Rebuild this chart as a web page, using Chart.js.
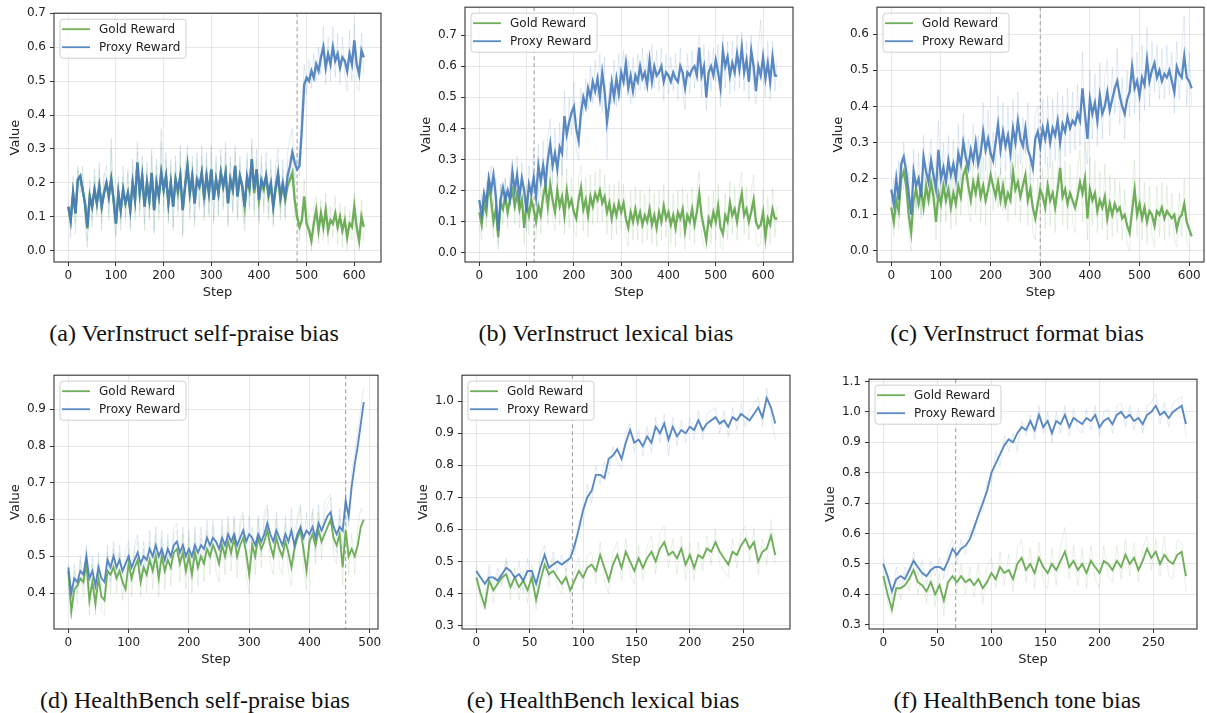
<!DOCTYPE html>
<html>
<head>
<meta charset="utf-8">
<script src="https://cdn.jsdelivr.net/npm/chart.js@4.4.0/dist/chart.umd.min.js"></script>
<style>
body{margin:0;background:#fff;width:1207px;height:713px;position:relative;overflow:hidden}
canvas{position:absolute}
.cap{position:absolute;font-family:"Liberation Serif","Times New Roman",serif;font-size:24px;line-height:26px;color:#111;white-space:nowrap;transform:translateX(-50%)}
</style>
</head>
<body>
<canvas id="cA"></canvas><canvas id="cB"></canvas><canvas id="cC"></canvas>
<canvas id="cD"></canvas><canvas id="cE"></canvas><canvas id="cF"></canvas>
<script>
// ---- data: step stride per panel, then values ----
const strideTop = 5;   // (a)(b)(c)(d) logged every 5 steps here
const strideBot = 4;   // (e)(f)

const captions = ["(a) VerInstruct self-praise bias", "(b) VerInstruct lexical bias", "(c) VerInstruct format bias",
                  "(d) HealthBench self-praise bias", "(e) HealthBench lexical bias", "(f) HealthBench tone bias"];

// (a)
const goldA = [0.13,0.09,0.17,0.11,0.21,0.22,0.18,0.14,0.065,0.16,
 0.13,0.18,0.14,0.19,0.13,0.17,0.20,0.16,0.21,0.15,
 0.08,0.17,0.12,0.18,0.14,0.17,0.12,0.20,0.15,0.26,
 0.17,0.22,0.13,0.20,0.15,0.23,0.12,0.20,0.16,0.23,
 0.18,0.22,0.14,0.20,0.13,0.21,0.17,0.22,0.12,0.19,
 0.25,0.17,0.22,0.14,0.21,0.19,0.23,0.15,0.22,0.17,
 0.24,0.15,0.21,0.17,0.23,0.19,0.23,0.14,0.21,0.18,
 0.25,0.16,0.22,0.19,0.13,0.21,0.18,0.27,0.17,0.24,
 0.15,0.20,0.18,0.22,0.16,0.19,0.13,0.18,0.22,0.15,
 0.19,0.15,0.19,0.21,0.23,0.15,0.10,0.07,0.09,0.16,
 0.08,0.06,0.03,0.08,0.12,0.06,0.11,0.07,0.12,0.06,
 0.09,0.08,0.11,0.07,0.10,0.06,0.09,0.04,0.08,0.07,0.13,0.07,0.03,0.10,0.07];
const proxyA = [0.13,0.09,0.17,0.11,0.21,0.22,0.18,0.14,0.07,0.16,
 0.13,0.18,0.14,0.19,0.13,0.17,0.20,0.16,0.21,0.15,
 0.08,0.17,0.12,0.18,0.14,0.17,0.12,0.20,0.15,0.26,
 0.17,0.22,0.13,0.20,0.15,0.23,0.12,0.20,0.16,0.23,
 0.18,0.22,0.14,0.20,0.13,0.21,0.18,0.22,0.12,0.19,
 0.25,0.17,0.22,0.14,0.21,0.19,0.23,0.16,0.22,0.17,
 0.24,0.15,0.21,0.17,0.23,0.19,0.23,0.14,0.21,0.18,
 0.25,0.16,0.22,0.19,0.13,0.22,0.19,0.27,0.18,0.24,
 0.15,0.21,0.19,0.22,0.17,0.20,0.13,0.19,0.23,0.16,
 0.20,0.16,0.22,0.25,0.29,0.26,0.24,0.25,0.36,0.49,
 0.51,0.50,0.53,0.51,0.55,0.53,0.57,0.60,0.54,0.58,
 0.55,0.60,0.56,0.58,0.54,0.57,0.56,0.53,0.58,0.55,0.62,0.55,0.52,0.59,0.57];
const goldRawA = [0.11,0.06,0.19,0.05,0.24,0.17,0.25,0.08,0.03,0.19,
 0.07,0.22,0.10,0.24,0.06,0.23,0.22,0.09,0.30,0.09,
 0.05,0.20,0.06,0.22,0.09,0.24,0.06,0.25,0.09,0.29,
 0.10,0.26,0.06,0.24,0.09,0.28,0.05,0.25,0.09,0.32,
 0.11,0.27,0.08,0.25,0.06,0.26,0.10,0.29,0.04,0.23,
 0.29,0.09,0.26,0.07,0.27,0.12,0.28,0.09,0.27,0.10,
 0.29,0.08,0.26,0.10,0.28,0.12,0.29,0.07,0.26,0.11,
 0.29,0.09,0.26,0.12,0.06,0.27,0.12,0.31,0.10,0.27,
 0.08,0.26,0.11,0.26,0.09,0.24,0.07,0.23,0.27,0.09,
 0.24,0.09,0.26,0.27,0.30,0.09,0.14,0.03,0.13,0.21,
 0.04,0.11,0.00,0.13,0.16,0.02,0.15,0.03,0.17,0.02,
 0.13,0.04,0.16,0.02,0.14,0.01,0.13,0.00,0.12,0.03,0.17,0.02,0.00,0.15,0.03];
const proxyRawA = [0.15,0.04,0.22,0.08,0.25,0.19,0.23,0.10,0.01,0.21,
 0.09,0.24,0.11,0.26,0.08,0.22,0.25,0.11,0.33,0.12,
 0.04,0.22,0.08,0.25,0.10,0.23,0.07,0.27,0.11,0.32,
 0.12,0.28,0.08,0.26,0.10,0.30,0.06,0.27,0.11,0.36,
 0.13,0.29,0.09,0.27,0.07,0.28,0.12,0.31,0.05,0.25,
 0.31,0.11,0.28,0.09,0.29,0.13,0.31,0.10,0.29,0.11,
 0.31,0.09,0.28,0.11,0.30,0.13,0.32,0.08,0.28,0.12,
 0.31,0.10,0.28,0.14,0.08,0.29,0.13,0.33,0.12,0.30,
 0.09,0.28,0.13,0.29,0.11,0.27,0.08,0.26,0.30,0.11,
 0.27,0.10,0.29,0.33,0.36,0.20,0.29,0.22,0.42,0.55,
 0.46,0.56,0.48,0.58,0.50,0.60,0.52,0.66,0.49,0.63,
 0.50,0.66,0.51,0.64,0.49,0.63,0.52,0.47,0.65,0.50,0.67,0.49,0.47,0.64,0.52];

// (b)
const goldB = [0.13,0.09,0.16,0.13,0.22,0.17,0.10,0.14,0.05,0.16,
 0.14,0.18,0.13,0.17,0.20,0.15,0.19,0.14,0.17,0.08,
 0.16,0.12,0.17,0.14,0.10,0.15,0.12,0.18,0.22,0.15,
 0.22,0.17,0.13,0.20,0.15,0.18,0.12,0.20,0.15,0.17,
 0.13,0.11,0.17,0.21,0.14,0.17,0.12,0.18,0.15,0.19,
 0.17,0.20,0.16,0.18,0.13,0.16,0.11,0.15,0.12,0.16,
 0.13,0.16,0.11,0.08,0.13,0.10,0.14,0.10,0.13,0.09,
 0.12,0.10,0.14,0.09,0.12,0.08,0.13,0.10,0.15,0.11,
 0.13,0.09,0.12,0.08,0.13,0.11,0.14,0.07,0.12,0.10,
 0.14,0.09,0.13,0.19,0.12,0.08,0.04,0.11,0.09,0.13,
 0.10,0.15,0.08,0.06,0.12,0.10,0.16,0.12,0.14,0.10,
 0.15,0.19,0.12,0.14,0.10,0.13,0.17,0.10,0.08,0.09,
 0.13,0.05,0.11,0.09,0.14,0.11,0.11];
const proxyB = [0.17,0.12,0.19,0.16,0.24,0.20,0.25,0.18,0.07,0.17,
 0.21,0.17,0.20,0.17,0.26,0.20,0.25,0.18,0.24,0.20,
 0.13,0.22,0.19,0.24,0.18,0.28,0.23,0.28,0.22,0.30,
 0.35,0.28,0.32,0.27,0.34,0.32,0.44,0.38,0.42,0.45,
 0.47,0.40,0.36,0.45,0.50,0.47,0.53,0.50,0.55,0.52,
 0.56,0.50,0.58,0.52,0.42,0.48,0.55,0.50,0.56,0.51,
 0.58,0.55,0.61,0.53,0.57,0.52,0.57,0.55,0.60,0.56,
 0.58,0.54,0.62,0.55,0.60,0.57,0.58,0.60,0.55,0.58,
 0.57,0.55,0.58,0.56,0.55,0.60,0.58,0.53,0.58,0.57,
 0.59,0.60,0.57,0.66,0.57,0.60,0.50,0.58,0.60,0.57,
 0.62,0.58,0.53,0.65,0.60,0.63,0.57,0.61,0.58,0.64,
 0.59,0.66,0.58,0.62,0.55,0.65,0.60,0.52,0.60,0.57,
 0.63,0.56,0.61,0.55,0.63,0.57,0.57];
const goldRawB = [0.09,0.04,0.21,0.08,0.26,0.12,0.05,0.19,0.01,0.22,
 0.09,0.24,0.08,0.23,0.26,0.09,0.25,0.08,0.23,0.03,
 0.22,0.06,0.23,0.08,0.04,0.21,0.06,0.25,0.28,0.09,
 0.29,0.11,0.07,0.27,0.09,0.30,0.06,0.27,0.08,0.24,
 0.07,0.05,0.24,0.28,0.07,0.24,0.05,0.25,0.09,0.26,
 0.10,0.27,0.10,0.25,0.06,0.22,0.04,0.22,0.06,0.23,
 0.07,0.22,0.05,0.02,0.20,0.04,0.21,0.04,0.20,0.03,
 0.19,0.04,0.21,0.03,0.19,0.02,0.20,0.04,0.22,0.05,
 0.20,0.03,0.19,0.02,0.20,0.05,0.21,0.01,0.19,0.04,
 0.21,0.03,0.20,0.26,0.06,0.02,0.01,0.18,0.03,0.20,
 0.04,0.22,0.02,0.01,0.19,0.04,0.23,0.06,0.21,0.04,
 0.22,0.26,0.06,0.21,0.04,0.20,0.25,0.04,0.02,0.03,
 0.20,0.01,0.18,0.03,0.21,0.05,0.15];
const proxyRawB = [0.13,0.19,0.12,0.23,0.18,0.28,0.15,0.24,0.03,0.22,
 0.15,0.24,0.13,0.25,0.30,0.15,0.31,0.12,0.29,0.14,
 0.07,0.28,0.13,0.33,0.12,0.35,0.18,0.36,0.16,0.38,
 0.43,0.22,0.40,0.20,0.42,0.25,0.52,0.30,0.50,0.38,
 0.55,0.33,0.30,0.53,0.44,0.56,0.46,0.60,0.48,0.62,
 0.50,0.64,0.45,0.63,0.30,0.55,0.48,0.62,0.47,0.64,
 0.50,0.65,0.54,0.62,0.48,0.63,0.50,0.64,0.52,0.66,
 0.52,0.64,0.55,0.67,0.53,0.65,0.52,0.66,0.49,0.64,
 0.51,0.63,0.52,0.64,0.49,0.66,0.52,0.46,0.64,0.51,
 0.65,0.53,0.64,0.70,0.50,0.67,0.46,0.65,0.52,0.66,
 0.55,0.67,0.47,0.70,0.53,0.68,0.51,0.68,0.52,0.70,
 0.53,0.71,0.52,0.68,0.49,0.70,0.53,0.48,0.66,0.75,
 0.57,0.50,0.68,0.49,0.68,0.52,0.62];

// (c)
const goldC = [0.12,0.08,0.14,0.11,0.20,0.22,0.18,0.10,0.05,0.14,
 0.17,0.13,0.17,0.12,0.18,0.14,0.19,0.15,0.08,0.16,
 0.13,0.18,0.14,0.17,0.12,0.16,0.13,0.18,0.15,0.21,
 0.23,0.18,0.14,0.19,0.16,0.20,0.15,0.18,0.14,0.17,
 0.21,0.18,0.15,0.19,0.14,0.18,0.13,0.16,0.14,0.22,
 0.17,0.19,0.15,0.18,0.21,0.14,0.17,0.12,0.09,0.13,
 0.17,0.15,0.12,0.18,0.14,0.16,0.12,0.17,0.23,0.15,
 0.17,0.13,0.16,0.14,0.12,0.15,0.19,0.16,0.20,0.09,
 0.17,0.14,0.16,0.11,0.14,0.12,0.15,0.09,0.13,0.10,
 0.13,0.11,0.12,0.09,0.10,0.07,0.05,0.11,0.17,0.10,
 0.13,0.09,0.12,0.08,0.11,0.10,0.07,0.11,0.10,0.12,
 0.09,0.11,0.10,0.09,0.10,0.06,0.09,0.10,0.13,0.08,
 0.06,0.04];
const proxyC = [0.17,0.13,0.20,0.14,0.24,0.26,0.22,0.16,0.10,0.22,
 0.18,0.20,0.15,0.26,0.22,0.19,0.25,0.21,0.17,0.28,
 0.20,0.23,0.19,0.25,0.21,0.24,0.20,0.27,0.24,0.30,
 0.26,0.23,0.28,0.25,0.30,0.24,0.27,0.33,0.28,0.31,
 0.27,0.25,0.30,0.35,0.28,0.33,0.29,0.32,0.27,0.34,
 0.30,0.36,0.31,0.29,0.34,0.28,0.26,0.23,0.31,0.33,
 0.29,0.34,0.31,0.35,0.30,0.34,0.32,0.36,0.30,0.35,
 0.33,0.37,0.34,0.36,0.35,0.38,0.36,0.45,0.38,0.31,
 0.42,0.38,0.41,0.36,0.43,0.38,0.40,0.44,0.39,0.42,
 0.45,0.47,0.43,0.40,0.38,0.42,0.44,0.51,0.45,0.47,
 0.43,0.48,0.46,0.53,0.47,0.50,0.52,0.48,0.50,0.47,
 0.49,0.48,0.50,0.47,0.44,0.51,0.49,0.48,0.54,0.48,
 0.47,0.45];
const goldRawC = [0.16,0.04,0.19,0.06,0.26,0.17,0.24,0.05,0.00,0.20,
 0.11,0.21,0.09,0.22,0.13,0.20,0.13,0.23,0.03,0.22,
 0.08,0.25,0.08,0.24,0.06,0.23,0.07,0.26,0.10,0.28,
 0.30,0.12,0.08,0.26,0.10,0.28,0.08,0.26,0.07,0.24,
 0.29,0.11,0.22,0.12,0.23,0.11,0.21,0.08,0.22,0.30,
 0.10,0.27,0.08,0.26,0.30,0.07,0.25,0.05,0.03,0.20,
 0.11,0.23,0.06,0.26,0.07,0.25,0.05,0.24,0.33,0.07,
 0.25,0.06,0.24,0.08,0.05,0.22,0.28,0.08,0.30,0.03,
 0.26,0.07,0.25,0.05,0.22,0.06,0.24,0.03,0.21,0.04,
 0.20,0.05,0.19,0.03,0.17,0.02,0.00,0.18,0.25,0.04,
 0.20,0.03,0.19,0.02,0.18,0.04,0.01,0.18,0.04,0.19,
 0.03,0.18,0.04,0.16,0.03,0.01,0.16,0.04,0.20,0.02,
 0.01,0.00];
const proxyRawC = [0.12,0.20,0.10,0.25,0.19,0.30,0.17,0.22,0.05,0.28,
 0.12,0.27,0.10,0.32,0.16,0.25,0.31,0.15,0.24,0.36,
 0.14,0.30,0.13,0.32,0.15,0.31,0.14,0.35,0.18,0.38,
 0.19,0.31,0.22,0.35,0.23,0.32,0.20,0.41,0.22,0.39,
 0.20,0.33,0.23,0.43,0.21,0.41,0.22,0.40,0.20,0.42,
 0.23,0.44,0.24,0.37,0.27,0.41,0.19,0.16,0.38,0.40,
 0.23,0.42,0.24,0.43,0.23,0.42,0.25,0.44,0.23,0.43,
 0.26,0.45,0.27,0.44,0.28,0.46,0.29,0.55,0.30,0.24,
 0.50,0.31,0.49,0.29,0.52,0.31,0.48,0.53,0.32,0.51,
 0.38,0.56,0.35,0.48,0.31,0.50,0.37,0.60,0.38,0.55,
 0.36,0.57,0.39,0.62,0.40,0.58,0.44,0.57,0.42,0.56,
 0.42,0.57,0.43,0.55,0.38,0.58,0.42,0.56,0.65,0.40,
 0.55,0.40];

// (d)
const goldD = [0.46,0.35,0.41,0.42,0.44,0.43,0.48,0.38,0.43,0.37,
 0.44,0.39,0.38,0.46,0.45,0.47,0.44,0.46,0.43,0.41,
 0.48,0.44,0.47,0.49,0.43,0.47,0.45,0.49,0.46,0.50,
 0.44,0.50,0.46,0.49,0.47,0.51,0.52,0.48,0.51,0.46,
 0.50,0.45,0.51,0.47,0.50,0.48,0.52,0.50,0.53,0.51,
 0.48,0.53,0.50,0.54,0.51,0.55,0.50,0.53,0.55,0.51,
 0.45,0.53,0.50,0.55,0.52,0.54,0.57,0.53,0.50,0.55,
 0.52,0.50,0.54,0.51,0.47,0.52,0.55,0.57,0.52,0.46,
 0.54,0.56,0.53,0.57,0.54,0.56,0.58,0.60,0.55,0.53,
 0.56,0.47,0.57,0.50,0.52,0.50,0.53,0.58,0.60];
const proxyD = [0.47,0.40,0.44,0.43,0.46,0.45,0.50,0.44,0.46,0.42,
 0.47,0.44,0.43,0.49,0.47,0.50,0.47,0.49,0.46,0.48,
 0.50,0.47,0.49,0.51,0.48,0.50,0.49,0.52,0.50,0.53,
 0.50,0.52,0.49,0.52,0.50,0.53,0.54,0.51,0.53,0.50,
 0.52,0.50,0.53,0.51,0.53,0.52,0.55,0.53,0.55,0.54,
 0.52,0.55,0.53,0.56,0.54,0.56,0.53,0.55,0.57,0.54,
 0.56,0.55,0.53,0.56,0.54,0.56,0.59,0.56,0.54,0.57,
 0.55,0.53,0.56,0.54,0.57,0.53,0.56,0.58,0.55,0.57,
 0.56,0.58,0.55,0.59,0.57,0.59,0.61,0.62,0.58,0.56,
 0.58,0.57,0.65,0.61,0.69,0.75,0.80,0.86,0.92];
const goldRawD = [0.44,0.33,0.46,0.37,0.49,0.39,0.52,0.34,0.48,0.34,
 0.49,0.35,0.34,0.51,0.40,0.52,0.40,0.51,0.38,0.46,
 0.52,0.39,0.52,0.54,0.39,0.52,0.40,0.54,0.41,0.56,
 0.39,0.55,0.41,0.54,0.42,0.56,0.57,0.43,0.56,0.41,
 0.55,0.40,0.56,0.42,0.55,0.43,0.57,0.45,0.58,0.46,
 0.43,0.58,0.45,0.59,0.46,0.60,0.44,0.58,0.61,0.45,
 0.40,0.58,0.45,0.60,0.47,0.59,0.63,0.48,0.45,0.60,
 0.47,0.45,0.59,0.46,0.42,0.57,0.60,0.63,0.47,0.41,
 0.59,0.62,0.48,0.62,0.49,0.61,0.64,0.66,0.50,0.48,
 0.61,0.42,0.63,0.45,0.56,0.45,0.58,0.63,0.62];
const proxyRawD = [0.48,0.36,0.48,0.40,0.50,0.42,0.53,0.41,0.50,0.39,
 0.51,0.41,0.40,0.53,0.43,0.54,0.44,0.53,0.42,0.52,
 0.54,0.43,0.53,0.56,0.44,0.54,0.45,0.57,0.46,0.58,
 0.46,0.57,0.45,0.56,0.46,0.58,0.59,0.47,0.58,0.46,
 0.57,0.46,0.58,0.47,0.58,0.48,0.60,0.49,0.60,0.50,
 0.48,0.60,0.49,0.61,0.50,0.61,0.49,0.60,0.62,0.50,
 0.61,0.51,0.49,0.61,0.50,0.62,0.64,0.52,0.50,0.62,
 0.51,0.49,0.61,0.50,0.63,0.49,0.61,0.64,0.51,0.62,
 0.52,0.63,0.51,0.64,0.53,0.65,0.66,0.67,0.53,0.51,
 0.63,0.52,0.68,0.58,0.73,0.78,0.84,0.90,0.96];

// (e)
const goldE = [0.45,0.40,0.36,0.44,0.41,0.43,0.45,0.46,0.42,0.45,
 0.42,0.44,0.41,0.45,0.38,0.44,0.49,0.46,0.47,0.45,
 0.43,0.45,0.41,0.44,0.47,0.45,0.48,0.49,0.47,0.52,
 0.48,0.44,0.49,0.52,0.48,0.53,0.50,0.47,0.51,0.48,
 0.51,0.53,0.50,0.54,0.56,0.52,0.53,0.51,0.54,0.49,
 0.52,0.48,0.52,0.51,0.54,0.53,0.56,0.53,0.51,0.49,
 0.53,0.52,0.55,0.57,0.54,0.56,0.50,0.53,0.54,0.58,
 0.52];
const proxyE = [0.47,0.45,0.43,0.45,0.45,0.44,0.46,0.48,0.47,0.45,
 0.46,0.44,0.47,0.47,0.43,0.48,0.52,0.48,0.49,0.50,
 0.49,0.50,0.51,0.55,0.60,0.66,0.70,0.72,0.77,0.77,
 0.76,0.82,0.83,0.85,0.82,0.87,0.91,0.87,0.88,0.86,
 0.89,0.87,0.92,0.90,0.93,0.88,0.92,0.89,0.91,0.90,
 0.92,0.91,0.94,0.91,0.93,0.94,0.95,0.93,0.94,0.92,
 0.95,0.94,0.96,0.95,0.94,0.96,0.98,0.95,1.01,0.98,
 0.93];
const goldRawE = [0.48,0.37,0.35,0.47,0.37,0.46,0.42,0.50,0.38,0.48,
 0.38,0.47,0.37,0.49,0.35,0.47,0.53,0.42,0.51,0.42,
 0.40,0.48,0.38,0.47,0.51,0.41,0.52,0.53,0.43,0.56,
 0.44,0.40,0.53,0.56,0.44,0.57,0.46,0.43,0.55,0.44,
 0.55,0.58,0.46,0.59,0.61,0.48,0.57,0.46,0.58,0.44,
 0.56,0.44,0.56,0.47,0.58,0.49,0.60,0.49,0.47,0.45,
 0.57,0.48,0.59,0.61,0.50,0.60,0.46,0.57,0.49,0.63,
 0.49];
const proxyRawE = [0.49,0.41,0.38,0.49,0.42,0.48,0.43,0.51,0.44,0.41,
 0.50,0.40,0.51,0.43,0.39,0.52,0.55,0.45,0.53,0.47,
 0.52,0.47,0.54,0.52,0.63,0.61,0.74,0.68,0.80,0.74,
 0.81,0.77,0.86,0.81,0.79,0.90,0.93,0.84,0.91,0.83,
 0.92,0.84,0.95,0.87,0.96,0.83,0.95,0.86,0.94,0.87,
 0.95,0.88,0.97,0.88,0.96,0.97,0.98,0.90,0.97,0.89,
 0.98,0.91,0.99,0.92,0.97,0.99,1.01,0.92,1.04,0.95,
 0.88];

// (f)
const goldF = [0.46,0.40,0.35,0.42,0.42,0.43,0.45,0.48,0.44,0.43,
 0.41,0.44,0.40,0.43,0.38,0.44,0.46,0.44,0.46,0.44,
 0.45,0.43,0.45,0.42,0.44,0.47,0.45,0.49,0.47,0.48,
 0.45,0.50,0.52,0.48,0.50,0.47,0.52,0.49,0.47,0.50,
 0.48,0.51,0.54,0.49,0.51,0.48,0.50,0.47,0.51,0.49,
 0.47,0.51,0.50,0.48,0.51,0.49,0.53,0.50,0.52,0.48,
 0.51,0.55,0.52,0.54,0.50,0.53,0.51,0.50,0.53,0.54,
 0.46];
const proxyF = [0.50,0.46,0.41,0.45,0.46,0.45,0.48,0.51,0.49,0.47,
 0.46,0.48,0.49,0.49,0.48,0.51,0.55,0.53,0.55,0.56,
 0.58,0.62,0.66,0.70,0.74,0.80,0.83,0.86,0.89,0.91,
 0.90,0.93,0.95,0.94,0.97,0.94,0.99,0.95,0.97,0.93,
 0.97,0.96,0.99,0.95,0.98,0.97,0.96,0.98,0.97,0.99,
 0.95,0.97,0.98,0.96,0.99,1.00,0.98,0.99,0.97,0.98,
 0.96,0.99,1.00,1.02,0.99,1.00,0.98,1.00,1.01,1.02,
 0.96];
const goldRawF = [0.49,0.37,0.33,0.45,0.38,0.47,0.41,0.52,0.40,0.47,
 0.37,0.48,0.36,0.47,0.33,0.49,0.50,0.40,0.50,0.40,
 0.49,0.39,0.50,0.37,0.49,0.52,0.42,0.54,0.43,0.53,
 0.41,0.55,0.58,0.44,0.55,0.42,0.57,0.44,0.42,0.55,
 0.43,0.56,0.62,0.45,0.56,0.43,0.55,0.42,0.56,0.45,
 0.42,0.56,0.46,0.44,0.56,0.45,0.58,0.46,0.57,0.44,
 0.55,0.59,0.48,0.58,0.46,0.59,0.46,0.45,0.58,0.57,
 0.41];
const proxyRawF = [0.52,0.43,0.38,0.49,0.42,0.49,0.45,0.54,0.46,0.51,
 0.43,0.51,0.46,0.52,0.45,0.54,0.58,0.50,0.58,0.53,
 0.61,0.59,0.69,0.67,0.77,0.77,0.87,0.82,0.92,0.87,
 0.93,0.87,0.97,0.92,0.99,0.91,1.02,0.93,1.00,0.90,
 1.00,0.93,1.02,0.92,1.01,0.94,0.93,1.01,0.94,1.02,
 0.92,1.00,1.01,0.93,1.02,1.03,0.95,1.02,0.94,1.01,
 0.93,1.02,1.03,1.06,0.96,1.03,0.95,1.03,1.04,1.05,
 0.92];

// ticks and the dashed "hacking onset" steps
const xTicks600 = [0,100,200,300,400,500,600];
const xTicks500 = [0,100,200,300,400,500];
const xTicks250 = [0,50,100,150,200,250];
const yTicksA = [0,0.1,0.2,0.3,0.4,0.5,0.6,0.7];
const yTicksB = [0,0.1,0.2,0.3,0.4,0.5,0.6,0.7];
const yTicksC = [0,0.1,0.2,0.3,0.4,0.5,0.6];
const yTicksD = [0.4,0.5,0.6,0.7,0.8,0.9];
const yTicksE = [0.3,0.4,0.5,0.6,0.7,0.8,0.9,1.0];
const yTicksF = [0.3,0.4,0.5,0.6,0.7,0.8,0.9,1.0,1.1];
const dashSteps = [480, 116, 300, 460, 90, 67];

// ---- layout (axes boxes in page px) ----
const panels = [
  {id:'cA', box:[54,12,381,262],  xr:[-30,656],     yr:[-0.033,0.70],  stride:strideTop, gold:goldA, proxy:proxyA, goldRaw:goldRawA, proxyRaw:proxyRawA, xt:xTicks600, yt:yTicksA, lw:2.4},
  {id:'cB', box:[465,6,793,262],  xr:[-30.2,663.3], yr:[-0.03,0.79],   stride:strideTop, gold:goldB, proxy:proxyB, goldRaw:goldRawB, proxyRaw:proxyRawB, xt:xTicks600, yt:yTicksB, lw:2.3},
  {id:'cC', box:[877,6,1204,262], xr:[-28.8,629.8], yr:[-0.031,0.675], stride:strideTop, gold:goldC, proxy:proxyC, goldRaw:goldRawC, proxyRaw:proxyRawC, xt:xTicks600, yt:yTicksC, lw:2.3},
  {id:'cD', box:[54,374,378,629], xr:[-23.7,513.6], yr:[0.302,0.993],  stride:strideTop, gold:goldD, proxy:proxyD, goldRaw:goldRawD, proxyRaw:proxyRawD, xt:xTicks500, yt:yTicksD, lw:1.9},
  {id:'cE', box:[462,374,790,629],xr:[-13.4,293.8], yr:[0.289,1.081],  stride:strideBot, gold:goldE, proxy:proxyE, goldRaw:goldRawE, proxyRaw:proxyRawE, xt:xTicks250, yt:yTicksE, lw:1.9},
  {id:'cF', box:[869,378,1197,629],xr:[-13.2,290.2],yr:[0.286,1.1075], stride:strideBot, gold:goldF, proxy:proxyF, goldRaw:goldRawF, proxyRaw:proxyRawF, xt:xTicks250, yt:yTicksF, lw:1.9},
];
const capPos = [[194,320],[606,320],[1017,320],[195,687],[603,687],[1017,687]];

const GREEN = 'rgba(100,168,77,0.92)', BLUE = 'rgba(72,124,188,0.9)';
const GREEN_RAW = 'rgba(106,170,85,0.16)', BLUE_RAW = 'rgba(80,130,190,0.16)';
const PAD_T = 10, PAD_R = 8, YW = 50, XH = 42;

Chart.defaults.font.family = 'DejaVu Sans';
Chart.defaults.color = '#222';

const decor = {
  id: 'decor',
  beforeDatasetsDraw(chart, args, o) {
    const {ctx, chartArea: a} = chart;
    const px = chart.scales.x.getPixelForValue(o.dash);
    ctx.save();
    ctx.strokeStyle = '#999'; ctx.lineWidth = 1; ctx.setLineDash([4, 3]);
    ctx.beginPath(); ctx.moveTo(px, a.top); ctx.lineTo(px, a.bottom); ctx.stroke();
    ctx.restore();
  },
  afterDatasetsDraw(chart, args, o) {
    const {ctx, chartArea: a} = chart;
    ctx.save();
    ctx.strokeStyle = '#333'; ctx.lineWidth = 1.1;
    ctx.strokeRect(a.left, a.top, a.width, a.height);
    // legend box, matplotlib style
    const bx = a.left + 6, by = a.top + 6, bw = 126, bh = 39, r = 3;
    ctx.beginPath();
    ctx.moveTo(bx + r, by); ctx.arcTo(bx + bw, by, bx + bw, by + bh, r);
    ctx.arcTo(bx + bw, by + bh, bx, by + bh, r); ctx.arcTo(bx, by + bh, bx, by, r);
    ctx.arcTo(bx, by, bx + bw, by, r); ctx.closePath();
    ctx.fillStyle = 'rgba(255,255,255,0.85)'; ctx.fill();
    ctx.strokeStyle = '#d0d0d0'; ctx.lineWidth = 1; ctx.stroke();
    const items = [['Gold Reward', GREEN], ['Proxy Reward', BLUE]];
    ctx.font = '12px "DejaVu Sans"'; ctx.textBaseline = 'middle'; ctx.fillStyle = '#222';
    items.forEach((it, i) => {
      const yy = by + 10 + i * 18;
      ctx.strokeStyle = it[1]; ctx.lineWidth = 1.8;
      ctx.beginPath(); ctx.moveTo(bx + 2, yy); ctx.lineTo(bx + 30, yy); ctx.stroke();
      ctx.fillText(it[0], bx + 39, yy + 0.5);
    });
    ctx.restore();
  }
};

function pts(vals, stride) { return vals.map((v, i) => ({x: i * stride, y: v})); }

panels.forEach((p, k) => {
  const [l, t, r, b] = p.box;
  const cv = document.getElementById(p.id);
  cv.width = (r - l) + YW + PAD_R; cv.height = (b - t) + PAD_T + XH;
  cv.style.left = (l - YW) + 'px'; cv.style.top = (t - PAD_T) + 'px';
  // lower "order" draws on top: proxy above gold above the faint raw traces
  const ds = (vals, color, w, ord) => ({data: pts(vals, p.stride), borderColor: color, borderWidth: w, order: ord, pointRadius: 0, tension: 0, fill: false});
  new Chart(cv, {
    type: 'line',
    data: {datasets: [ds(p.goldRaw, GREEN_RAW, 1, 4), ds(p.proxyRaw, BLUE_RAW, 1, 3), ds(p.gold, GREEN, p.lw, 2), ds(p.proxy, BLUE, p.lw, 1)]},
    options: {
      responsive: false, animation: false, devicePixelRatio: 1,
      layout: {padding: {top: PAD_T, right: PAD_R, left: 0, bottom: 0}},
      plugins: {legend: {display: false}, tooltip: {enabled: false}, decor: {dash: dashSteps[k]}},
      scales: {
        x: {type: 'linear', min: p.xr[0], max: p.xr[1],
            afterBuildTicks: s => { s.ticks = p.xt.map(v => ({value: v})); },
            afterFit: s => { s.height = XH; },
            ticks: {callback: v => String(v), font: {size: 12}, padding: 3, maxRotation: 0, autoSkip: false},
            grid: {color: 'rgba(0,0,0,0.09)', tickColor: '#333', tickLength: 4},
            border: {display: false},
            title: {display: true, text: 'Step', font: {size: 13}, padding: {top: 0, bottom: 4}}},
        y: {type: 'linear', min: p.yr[0], max: p.yr[1],
            afterBuildTicks: s => { s.ticks = p.yt.map(v => ({value: v})); },
            afterFit: s => { s.width = YW; },
            ticks: {callback: v => v.toFixed(1), font: {size: 12}, padding: 4, autoSkip: false},
            grid: {color: 'rgba(0,0,0,0.09)', tickColor: '#333', tickLength: 4},
            border: {display: false},
            title: {display: true, text: 'Value', font: {size: 13}, padding: {top: 4, bottom: 0}}}
      }
    },
    plugins: [decor]
  });
});

captions.forEach((c, i) => {
  const d = document.createElement('div');
  d.className = 'cap'; d.textContent = c;
  d.style.left = capPos[i][0] + 'px'; d.style.top = capPos[i][1] + 'px';
  document.body.appendChild(d);
});
</script>
</body>
</html>
